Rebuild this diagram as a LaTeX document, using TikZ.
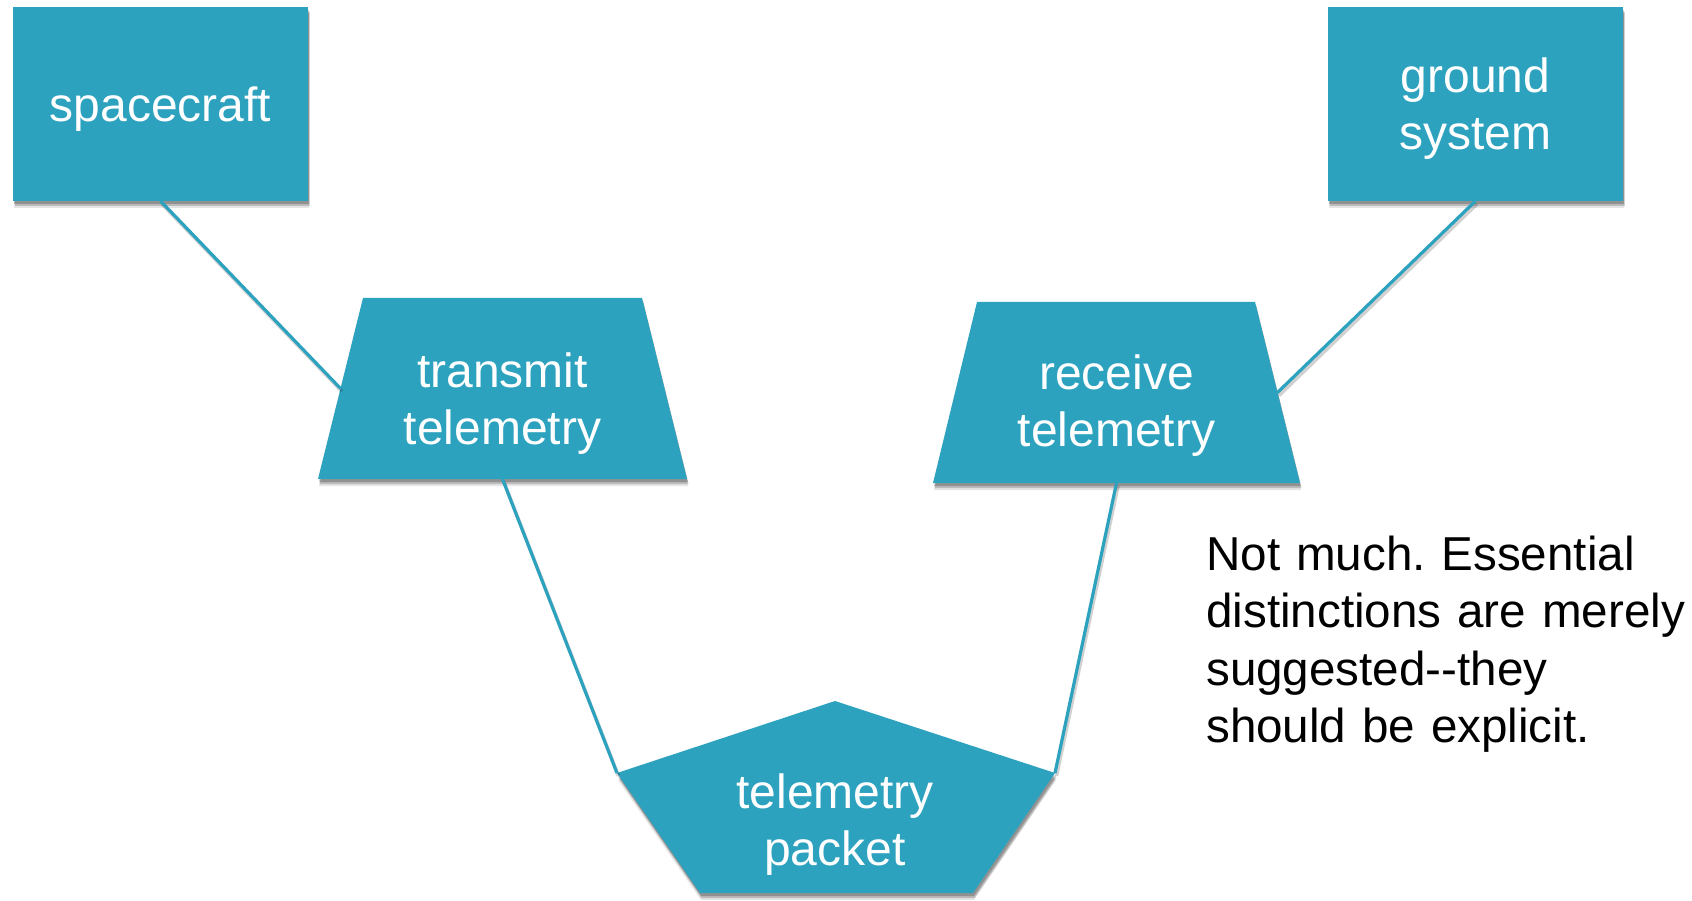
\documentclass[tikz,border=0pt]{standalone}
\usepackage{fontspec}
\setmainfont{Liberation Sans}
\usetikzlibrary{shadows}
\definecolor{tealbox}{HTML}{2DA2BF}
\frenchspacing
\tikzset{
  shad/.style={
    drop shadow={shadow xshift=1pt, shadow yshift=-7pt, fill=black, opacity=0.10},
    drop shadow={shadow xshift=1.5pt, shadow yshift=-5pt, fill=black, opacity=0.18},
    drop shadow={shadow xshift=1pt, shadow yshift=-3pt, fill=black, opacity=0.22}},
  box/.style={shape=rectangle, fill=tealbox, shad, minimum width=295, minimum height=194, inner sep=0, outer sep=0},
  shapefill/.style={fill=tealbox, shad},
  lbl/.style={text=white, font=\fontsize{48}{57}\selectfont, align=center, text width=400pt, inner sep=0, anchor=base},
  note/.style={text=black, font=\fontsize{47.6}{57.5}\selectfont, align=left, text width=490pt, inner sep=0, anchor=base west},
  conn/.style={draw=tealbox, line width=3.2pt,
    preaction={draw=black, opacity=0.18, line width=3.5pt, transform canvas={xshift=1.5pt, yshift=-3pt}}}
}
\begin{document}
\begin{tikzpicture}[x=1pt, y=-1pt]
  \useasboundingbox (0,0) rectangle (1692,901);
  \fill[white] (0,0) rectangle (1692,901);
  % boxes
  \node[box] (sc) at (160.5,104) {};
  \node[box] (gs) at (1475.5,104) {};
  % transmit trapezoid
  \coordinate (txTL) at (363,298);
  \coordinate (txTR) at (642,298);
  \coordinate (txBR) at (687,479);
  \coordinate (txBL) at (318,479);
  \coordinate (txS) at (502.5,479);
  \coordinate (txW) at (340.5,388.5);
  \fill[shapefill] (txTL) -- (txTR) -- (txBR) -- (txBL) -- cycle;
  % receive trapezoid
  \coordinate (rxTL) at (977,302);
  \coordinate (rxTR) at (1255,302);
  \coordinate (rxBR) at (1300,483);
  \coordinate (rxBL) at (933,483);
  \coordinate (rxS) at (1116.5,483);
  \coordinate (rxE) at (1277.5,392.5);
  \fill[shapefill] (rxTL) -- (rxTR) -- (rxBR) -- (rxBL) -- cycle;
  % packet pentagon
  \coordinate (pkT) at (835,701);
  \coordinate (pkR) at (1055,773);
  \coordinate (pkBR) at (973,893);
  \coordinate (pkBL) at (700,893);
  \coordinate (pkL) at (617,773);
  \fill[shapefill] (pkT) -- (pkR) -- (pkBR) -- (pkBL) -- (pkL) -- cycle;
  % connectors
  \draw[conn] (sc.south) -- (txW);
  \draw[conn] (txS) -- (pkL);
  \draw[conn] (pkR) -- (rxS);
  \draw[conn] (rxE) -- (gs.south);
  % labels
  \node[lbl] (sct) at (160.5,122) {spacecraft};
  \node[lbl] (gst) at (1475.5,93) {ground\\system};
  \node[lbl] (txt) at (502.5,387) {transmit\\telemetry};
  \node[lbl] (rxt) at (1116.5,389) {receive\\telemetry};
  \node[lbl] (pkt) at (835,808) {telemetry\\packet};
  \node[note] (nt) at (1206,570) {Not much. Essential\\distinctions are merely\\suggested-{}-they\\should be explicit.};
\end{tikzpicture}
\end{document}
